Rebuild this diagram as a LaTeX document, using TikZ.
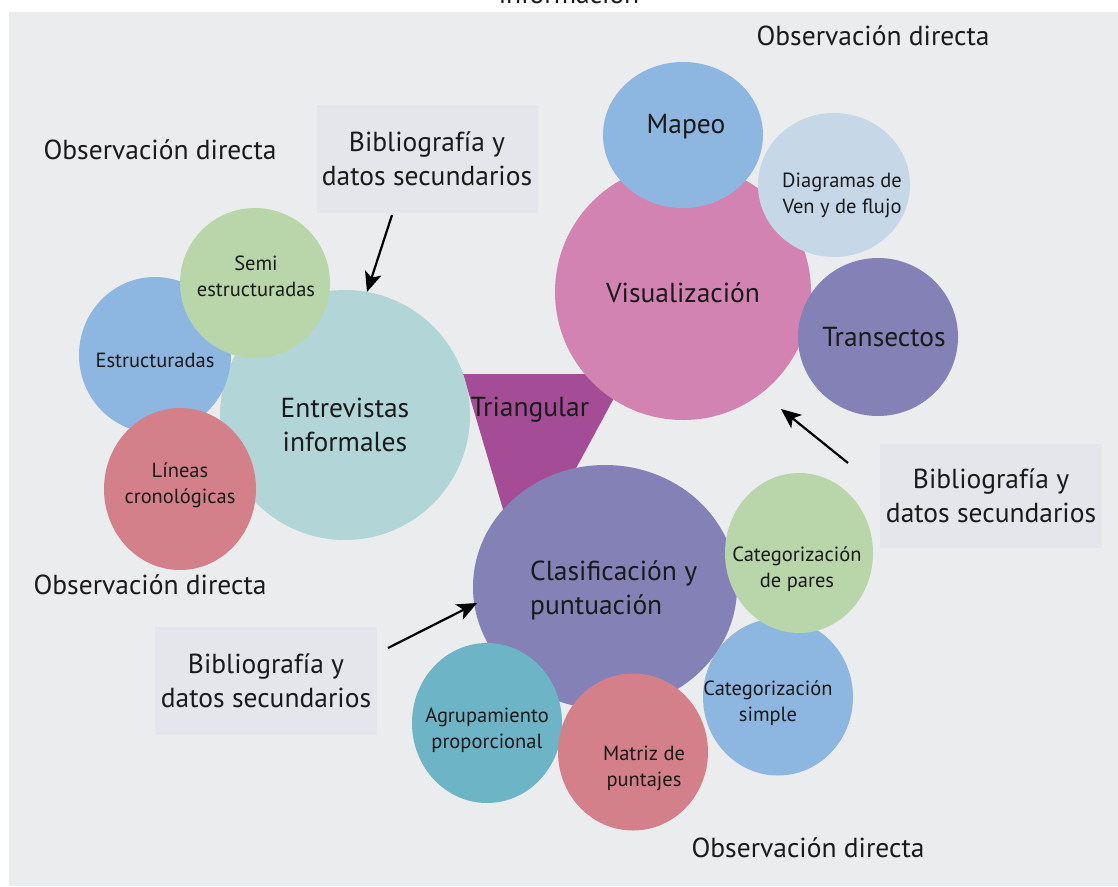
\documentclass[tikz,border=0pt]{standalone}
\usepackage{fontspec}
\setmainfont{PT Sans}
\usetikzlibrary{shapes.geometric,arrows.meta}
\definecolor{bg}{HTML}{EBECEE}
\definecolor{boxbg}{HTML}{E4E6EB}
\definecolor{tealA}{HTML}{B2D6D8}
\definecolor{blueA}{HTML}{8DB6E1}
\definecolor{greenA}{HTML}{B9D6AB}
\definecolor{roseA}{HTML}{D4808A}
\definecolor{pinkA}{HTML}{D383B1}
\definecolor{lblue}{HTML}{C6D8E8}
\definecolor{purpA}{HTML}{8481B6}
\definecolor{tealB}{HTML}{6CB4C6}
\definecolor{magA}{HTML}{A44C95}
\definecolor{txt}{HTML}{1A1A1A}
\begin{document}
\begin{tikzpicture}[x=1pt,y=-1pt,
  bub/.style={ellipse,inner sep=0pt,draw=none},
  bigt/.style={text=txt,font=\fontsize{27.5}{34}\selectfont,align=center,inner sep=0pt},
  smallt/.style={text=txt,font=\fontsize{20.5}{26}\selectfont,align=center,inner sep=0pt},
  bibbox/.style={fill=boxbg,text=txt,font=\fontsize{27.5}{34}\selectfont,align=center,inner sep=0pt},
  arr/.style={-{Stealth[length=20pt,width=17pt,inset=5pt]},line width=2.2pt,black}]
\useasboundingbox (0,0) rectangle (1118,886);
\fill[bg] (9,12) rectangle (1118,886);
\node[bigt,anchor=base] (info) at (569,3) {información};
% triangle
\fill[magA] (463,374) -- (627,374) -- (521,570) -- cycle;
% left cluster
\node[bub,fill=tealA,minimum width=250pt,minimum height=250pt] (entc) at (345,415) {};
\node[bub,fill=blueA,minimum width=152pt,minimum height=156pt] (estc) at (155,355) {};
\node[bub,fill=greenA,minimum width=150pt,minimum height=150pt] (semc) at (255,283) {};
\node[bub,fill=roseA,minimum width=152pt,minimum height=162pt] (linc) at (180,489) {};
% top right cluster
\node[bub,fill=pinkA,minimum width=256pt,minimum height=256pt] (visc) at (683,292) {};
\node[bub,fill=blueA,minimum width=160pt,minimum height=146pt] (mapc) at (683,135) {};
\node[bub,fill=lblue,minimum width=152pt,minimum height=144pt] (diac) at (834,185) {};
\node[bub,fill=purpA,minimum width=160pt,minimum height=158pt] (trac) at (878,337) {};
% bottom cluster
\node[bub,fill=purpA,minimum width=264pt,minimum height=244pt] (clac) at (605,587) {};
\node[bub,fill=tealB,minimum width=150pt,minimum height=160pt] (agrc) at (487,723) {};
\node[bub,fill=roseA,minimum width=150pt,minimum height=157pt] (matc) at (633,752) {};
\node[bub,fill=blueA,minimum width=150pt,minimum height=157pt] (simc) at (778,697) {};
\node[bub,fill=greenA,minimum width=148pt,minimum height=160pt] (parc) at (799,553) {};
% labels
\node[bigt] (tri) at (530,410) {Triangular};
\node[bigt] (ent) at (345,425) {Entrevistas\\informales};
\node[smallt] (est) at (155,360) {Estructuradas};
\node[smallt] (sem) at (256,276) {Semi\\estructuradas};
\node[smallt] (lin) at (180,485) {Líneas\\cronológicas};
\node[bigt] (vis) at (683,293) {Visualización};
\node[bigt] (map) at (686,127) {Mapeo};
\node[smallt] (dia) at (842,195) {Diagramas de\\Ven y de flujo};
\node[bigt] (tra) at (884,337) {Transectos};
\node[bigt,anchor=west,align=left] (cla) at (530,590) {Clasificación y\\puntuación};
\node[smallt] (par) at (797,569) {Categorización\\de pares};
\node[smallt] (sim) at (768,703) {Categorización\\simple};
\node[smallt] (agr) at (487,730) {Agrupamiento\\proporcional};
\node[smallt] (mat) at (644,768) {Matriz de\\puntajes};
% observacion labels
\node[bigt] (obs1) at (873,36) {Observación directa};
\node[bigt] (obs2) at (160,150) {Observación directa};
\node[bigt] (obs3) at (150,585) {Observación directa};
\node[bigt] (obs4) at (808,848) {Observación directa};
% bibliografia boxes
\node[bibbox,minimum width=221pt,minimum height=108pt] (bib1) at (427,159) {Bibliografía y\\datos secundarios};
\node[bibbox,minimum width=222pt,minimum height=104pt] (bib2) at (991,496) {Bibliografía y\\datos secundarios};
\node[bibbox,minimum width=222pt,minimum height=108pt] (bib3) at (266,681) {Bibliografía y\\datos secundarios};
% arrows
\coordinate (a1s) at (392,215);
\coordinate (a1e) at (367,292);
\coordinate (a2s) at (848,463);
\coordinate (a2e) at (781,409);
\coordinate (a3s) at (388,648);
\coordinate (a3e) at (477,603);
\draw[arr] (a1s) -- (a1e);
\draw[arr] (a2s) -- (a2e);
\draw[arr] (a3s) -- (a3e);
\end{tikzpicture}
\end{document}
